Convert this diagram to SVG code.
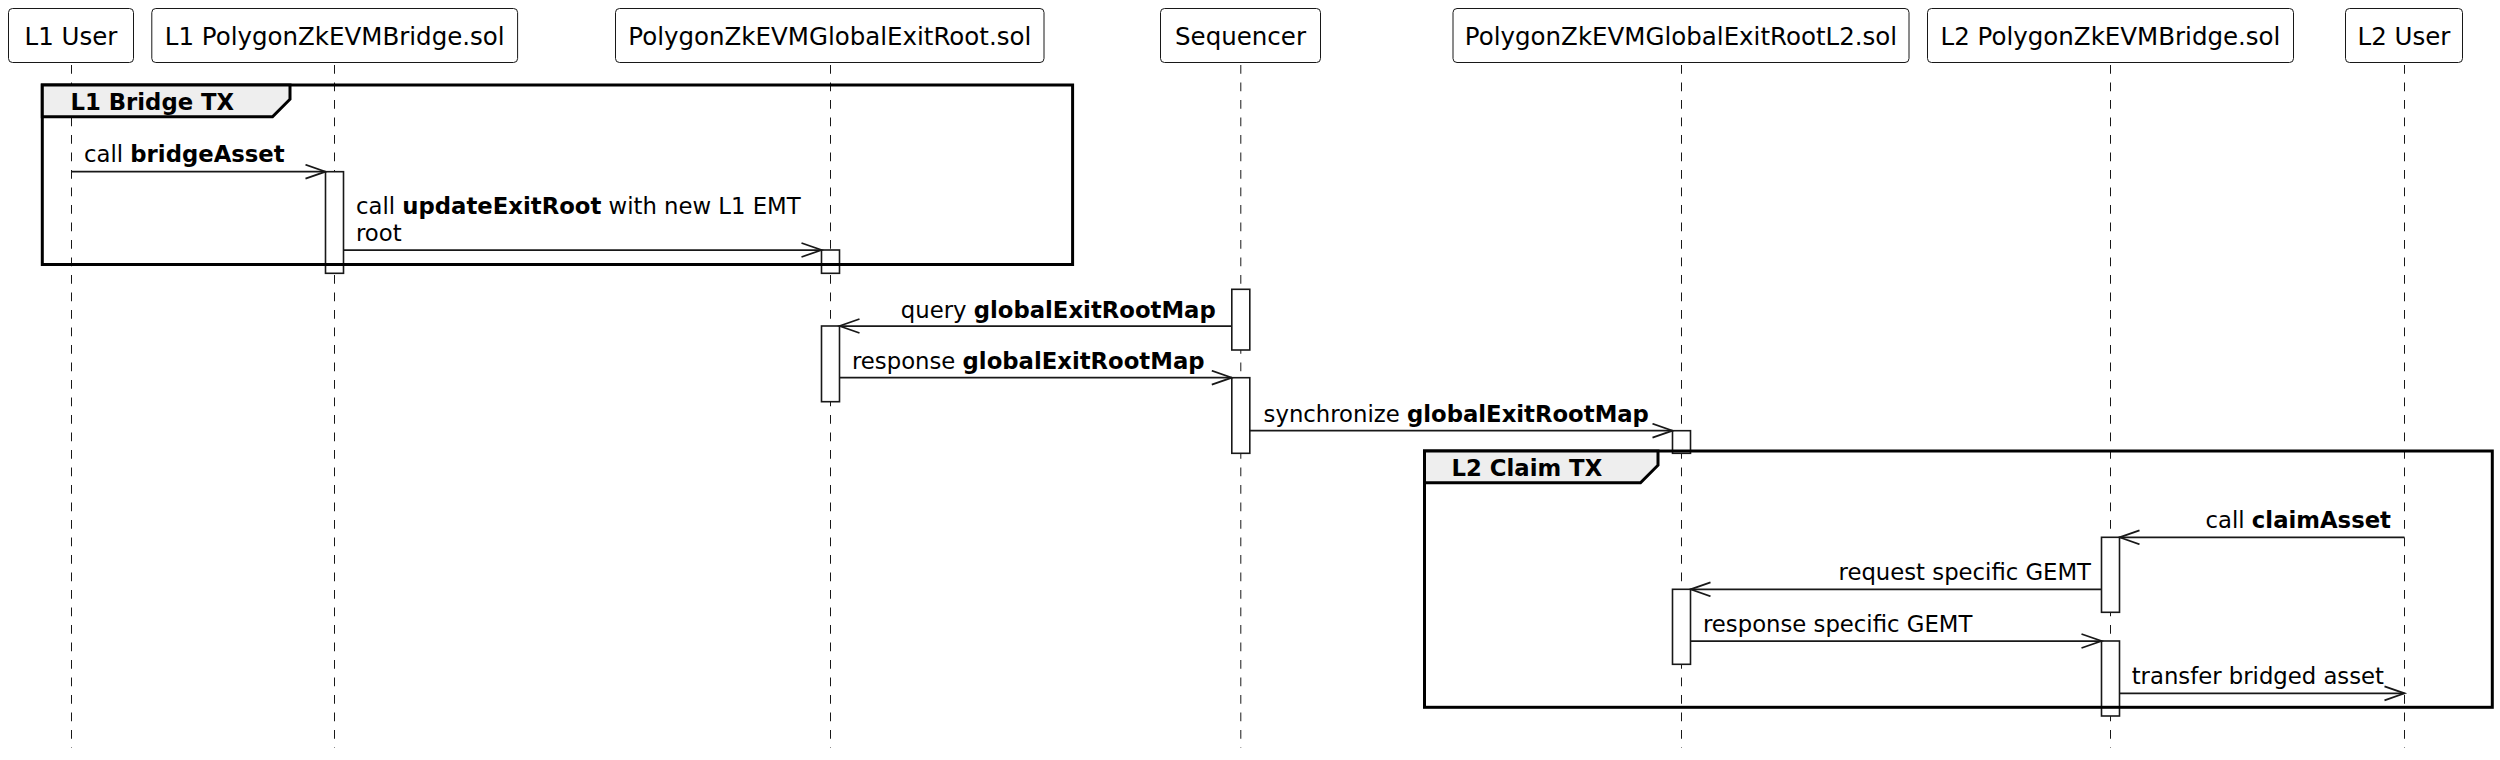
<svg xmlns="http://www.w3.org/2000/svg" width="2500" height="760" viewBox="0 0 2500 760">
<defs>
<style>
text{font-family:"DejaVu Sans","Liberation Sans",sans-serif;fill:#000}
.pt{font-size:24.5px;text-anchor:middle}
.msg{font-size:22.75px}
.b{font-weight:bold}
.end{text-anchor:end}
.pbox{fill:#fff;stroke:#181818;stroke-width:1}
.life{stroke:#181818;stroke-width:1;stroke-dasharray:8.75,8.75;fill:none}
.act{fill:#fff;stroke:#181818;stroke-width:1.6}
.frame{fill:none;stroke:#000;stroke-width:3}
.tab{fill:#eeeeee;stroke:#000;stroke-width:3}
.arr{stroke:#181818;stroke-width:1.75;fill:none;marker-end:url(#open)}
</style>
<marker id="open" markerUnits="userSpaceOnUse" markerWidth="24" markerHeight="18" refX="21" refY="8" orient="auto" viewBox="0 0 24 18">
<path d="M1,1 L21,8 L1,15" fill="none" stroke="#181818" stroke-width="1.75"/>
</marker>
</defs>
<rect width="2500" height="760" fill="#fff"/>
<g id="lifelines">
<line class="life" x1="71.5" y1="65" x2="71.5" y2="748"/>
<line class="life" x1="334.5" y1="65" x2="334.5" y2="748"/>
<line class="life" x1="830.5" y1="65" x2="830.5" y2="748"/>
<line class="life" x1="1240.8" y1="65" x2="1240.8" y2="748"/>
<line class="life" x1="1681.5" y1="65" x2="1681.5" y2="748"/>
<line class="life" x1="2110.5" y1="65" x2="2110.5" y2="748"/>
<line class="life" x1="2404.5" y1="65" x2="2404.5" y2="748"/>
</g>
<g id="p-l1user"><rect class="pbox" x="8.5" y="8.5" width="125" height="54" rx="4"/><text class="pt" x="71" y="45">L1 User</text></g>
<g id="p-l1bridge"><rect class="pbox" x="151.8" y="8.5" width="365.8" height="54" rx="4"/><text class="pt" x="334.7" y="45">L1 PolygonZkEVMBridge.sol</text></g>
<g id="p-ger"><rect class="pbox" x="615.5" y="8.5" width="428.5" height="54" rx="4"/><text class="pt" x="829.8" y="45">PolygonZkEVMGlobalExitRoot.sol</text></g>
<g id="p-seq"><rect class="pbox" x="1160.5" y="8.5" width="160" height="54" rx="4"/><text class="pt" x="1240.5" y="45">Sequencer</text></g>
<g id="p-gerl2"><rect class="pbox" x="1453" y="8.5" width="456" height="54" rx="4"/><text class="pt" x="1681" y="45">PolygonZkEVMGlobalExitRootL2.sol</text></g>
<g id="p-l2bridge"><rect class="pbox" x="1927.5" y="8.5" width="366" height="54" rx="4"/><text class="pt" x="2110.5" y="45">L2 PolygonZkEVMBridge.sol</text></g>
<g id="p-l2user"><rect class="pbox" x="2345.5" y="8.5" width="117" height="54" rx="4"/><text class="pt" x="2404" y="45">L2 User</text></g>
<g id="activations">
<rect class="act" x="325.5" y="171.7" width="18" height="101.6"/>
<rect class="act" x="821.5" y="250" width="18" height="23.3"/>
<rect class="act" x="821.5" y="326" width="18" height="75.7"/>
<rect class="act" x="1231.8" y="289.3" width="18" height="60.7"/>
<rect class="act" x="1231.8" y="377.7" width="18" height="75.6"/>
<rect class="act" x="1672.5" y="430.7" width="18" height="22.6"/>
<rect class="act" x="1672.5" y="589.3" width="18" height="75"/>
<rect class="act" x="2101.5" y="537.3" width="18" height="75"/>
<rect class="act" x="2101.5" y="641" width="18" height="75"/>
</g>
<g id="frame-l1">
<rect class="frame" x="42.3" y="85" width="1030.3" height="179.5"/>
<polygon class="tab" points="42.3,85 290,85 290,99.2 272.5,116.7 42.3,116.7"/>
<text class="msg b" x="70.5" y="109.5">L1 Bridge TX</text>
</g>
<g id="frame-l2">
<rect class="frame" x="1424.5" y="451" width="1067.8" height="256.3"/>
<polygon class="tab" points="1424.5,451 1658,451 1658,465.2 1640.5,482.7 1424.5,482.7"/>
<text class="msg b" x="1451.6" y="475.5">L2 Claim TX</text>
</g>
<g id="connectors">
<line class="arr" x1="71.5" y1="171.7" x2="325.5" y2="171.7"/>
<line class="arr" x1="343.5" y1="250" x2="821.5" y2="250"/>
<line class="arr" x1="1231.8" y1="326" x2="839.5" y2="326"/>
<line class="arr" x1="839.5" y1="377.7" x2="1231.8" y2="377.7"/>
<line class="arr" x1="1249.8" y1="430.7" x2="1672.5" y2="430.7"/>
<line class="arr" x1="2404.5" y1="537.3" x2="2119.5" y2="537.3"/>
<line class="arr" x1="2101.5" y1="589.3" x2="1690.5" y2="589.3"/>
<line class="arr" x1="1690.5" y1="641" x2="2101.5" y2="641"/>
<line class="arr" x1="2119.5" y1="693.3" x2="2404.5" y2="693.3"/>
</g>
<g id="labels">
<text class="msg" x="84" y="161.5">call <tspan class="b">bridgeAsset</tspan></text>
<text class="msg" x="356" y="214.3">call <tspan class="b">updateExitRoot</tspan> with new L1 EMT</text>
<text class="msg" x="356" y="240.7">root</text>
<text class="msg end" x="1215.7" y="318">query <tspan class="b">globalExitRootMap</tspan></text>
<text class="msg" x="852" y="369">response <tspan class="b">globalExitRootMap</tspan></text>
<text class="msg" x="1263.6" y="422">synchronize <tspan class="b">globalExitRootMap</tspan></text>
<text class="msg end" x="2391" y="528">call <tspan class="b">claimAsset</tspan></text>
<text class="msg end" x="2091" y="580">request specific GEMT</text>
<text class="msg" x="1703" y="631.7">response specific GEMT</text>
<text class="msg" x="2131.7" y="684">transfer bridged asset</text>
</g>
</svg>
